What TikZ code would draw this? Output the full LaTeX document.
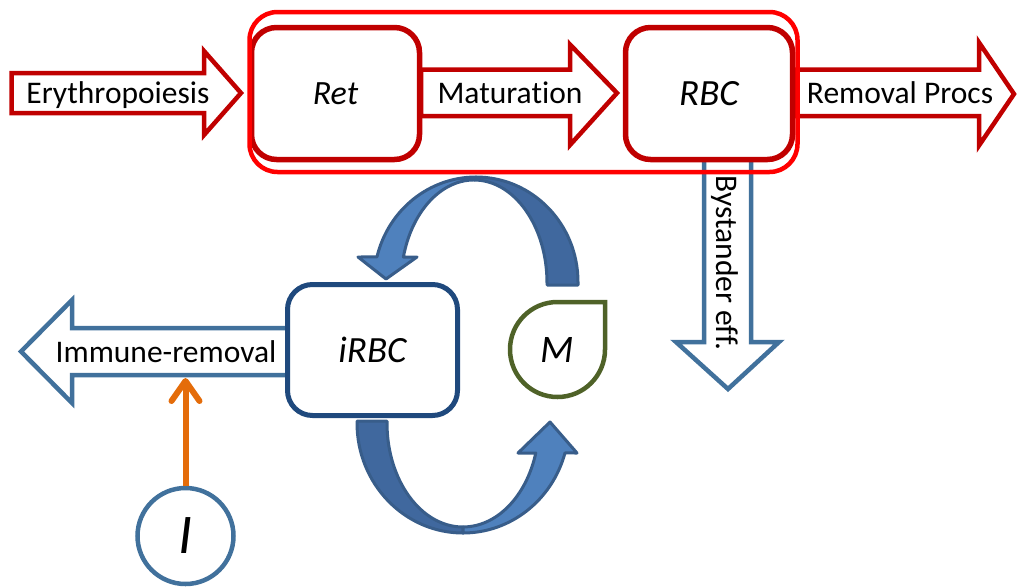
\documentclass[tikz,border=0pt]{standalone}
\usepackage{fontspec}
\setmainfont{Carlito}[Ligatures=CommonOff]
\usetikzlibrary{arrows.meta}
\definecolor{darkred}{RGB}{192,0,0}
\definecolor{brightred}{RGB}{255,0,0}
\definecolor{bluestroke}{RGB}{65,113,156}
\definecolor{boxblue}{RGB}{31,73,125}
\definecolor{ribbonlight}{RGB}{79,129,189}
\definecolor{ribbondark}{RGB}{64,104,158}
\definecolor{ribbonline}{RGB}{56,93,138}
\definecolor{orangearrow}{RGB}{228,108,10}
\definecolor{mgreen}{RGB}{79,98,40}
\begin{document}
\begin{tikzpicture}[x=1pt,y=1pt,yscale=-1,line join=miter,
  redbox/.style={draw=darkred,line width=5.5pt,rounded corners=25pt,fill=white,
    minimum width=168pt,minimum height=132pt,inner sep=0pt},
  bluebox/.style={draw=boxblue,line width=5pt,rounded corners=25pt,fill=white,
    minimum width=170pt,minimum height=131pt,inner sep=0pt},
  redarrow/.style={draw=darkred,line width=4.5pt,fill=white},
  bluearrow/.style={draw=bluestroke,line width=4.5pt,fill=white},
  ribbonback/.style={draw=ribbonline,line width=3pt,fill=ribbondark,line join=round},
  ribbonfront/.style={draw=ribbonline,line width=3pt,fill=ribbonlight,line join=round},
  lbl/.style={font=\fontsize{31.5}{38}\selectfont,inner sep=0pt,anchor=base},
  bigital/.style={font=\fontsize{37}{44}\selectfont\itshape,inner sep=0pt},
  orangearr/.style={draw=orangearrow,line width=6pt,
    -{Straight Barb[length=20pt,width=28pt,line cap=round,line join=round]}}]
\useasboundingbox (0,0) rectangle (1019,587);

% ---- top ribbon arrow (M -> iRBC) ----
\draw[ribbonback] (578,285) -- (578,282)
  arc[start angle=0,end angle=-90,x radius=102,y radius=105]
  -- (474,180)
  arc[start angle=-90,end angle=0,x radius=73,y radius=103]
  -- (547,285) -- cycle;
\draw[ribbonfront] (476,177)
  arc[start angle=270,end angle=193.8,x radius=102,y radius=105]
  -- (358,257) -- (386,279) -- (417,257) -- (403.4,257)
  arc[start angle=194.6,end angle=270,x radius=73,y radius=103]
  -- cycle;

% ---- bottom ribbon arrow (iRBC -> M) ----
\draw[ribbonback] (357,421) -- (357,423)
  arc[start angle=180,end angle=90,x radius=106,y radius=110]
  -- (463,527)
  arc[start angle=90,end angle=180,x radius=76,y radius=104]
  -- (387,421) -- cycle;
\draw[ribbonfront] (463,533)
  arc[start angle=90,end angle=15.8,x radius=106,y radius=110]
  -- (577,453) -- (550,422) -- (518,453) -- (535.8,453)
  arc[start angle=16.8,end angle=90,x radius=76,y radius=104]
  -- cycle;

% ---- bystander arrow ----
\draw[bluearrow] (704,156) -- (704,342) -- (676,342) -- (728,389)
  -- (779,342) -- (751,342) -- (751,156) -- cycle;
\node[lbl,rotate=-90] (bys) at (716,263) {Bystander eff.};

% ---- red compartment boxes ----
\node[redbox,font=\fontsize{34}{40}\selectfont\itshape] (ret) at (335.5,93.5) {Ret};
\node[redbox,minimum width=167pt,font=\fontsize{37}{44}\selectfont\itshape] (rbc) at (709,93.5) {RBC};

% ---- red block arrows ----
\draw[redarrow] (11.5,73) -- (204,73) -- (204,51) -- (241,93) -- (204,135)
  -- (204,113) -- (11.5,113) -- cycle;
\node[lbl] (ery) at (118,103) {Erythropoiesis};
\draw[redarrow] (421,69.5) -- (570,69.5) -- (570,44.5) -- (617,93) -- (570,145)
  -- (570,116) -- (421,116) -- cycle;
\node[lbl] (mat) at (510,103) {Maturation};
\draw[redarrow] (794,69.5) -- (979,69.5) -- (979,42.5) -- (1014,94) -- (979,145.5)
  -- (979,116) -- (794,116) -- cycle;
\node[lbl] (rem) at (900,103) {Removal Procs};

% ---- outer red frame ----
\draw[draw=brightred,line width=4.5pt,rounded corners=28pt]
  (249.5,12) rectangle (797.5,172);

% ---- immune removal arrow ----
\draw[bluearrow] (289,328) -- (72,328) -- (72,300) -- (21,351.5) -- (72,403)
  -- (72,375) -- (289,375) -- cycle;
\node[lbl] (imm) at (166,362) {Immune-removal};

% ---- iRBC box ----
\node[bluebox,font=\fontsize{37}{44}\selectfont\itshape] (irbc) at (372.5,350) {iRBC};

% ---- M teardrop ----
\draw[draw=mgreen,line width=4.5pt,fill=white] (557.5,302) -- (605,302) -- (605,349.5)
  arc[start angle=0,end angle=270,radius=47.5] -- cycle;
\node[bigital,font=\fontsize{39}{46}\selectfont\itshape] (M) at (557.5,350) {M};

% ---- I circle and orange arrow ----
\node[circle,draw=bluestroke,line width=4.5pt,fill=white,minimum size=96pt,inner sep=0pt,
  font=\fontsize{56}{64}\selectfont\itshape] (I) at (185.5,536) {I};
\coordinate (irm) at (185.5,378);
\draw[orangearr] (I.north) -- (irm);
\end{tikzpicture}
\end{document}
